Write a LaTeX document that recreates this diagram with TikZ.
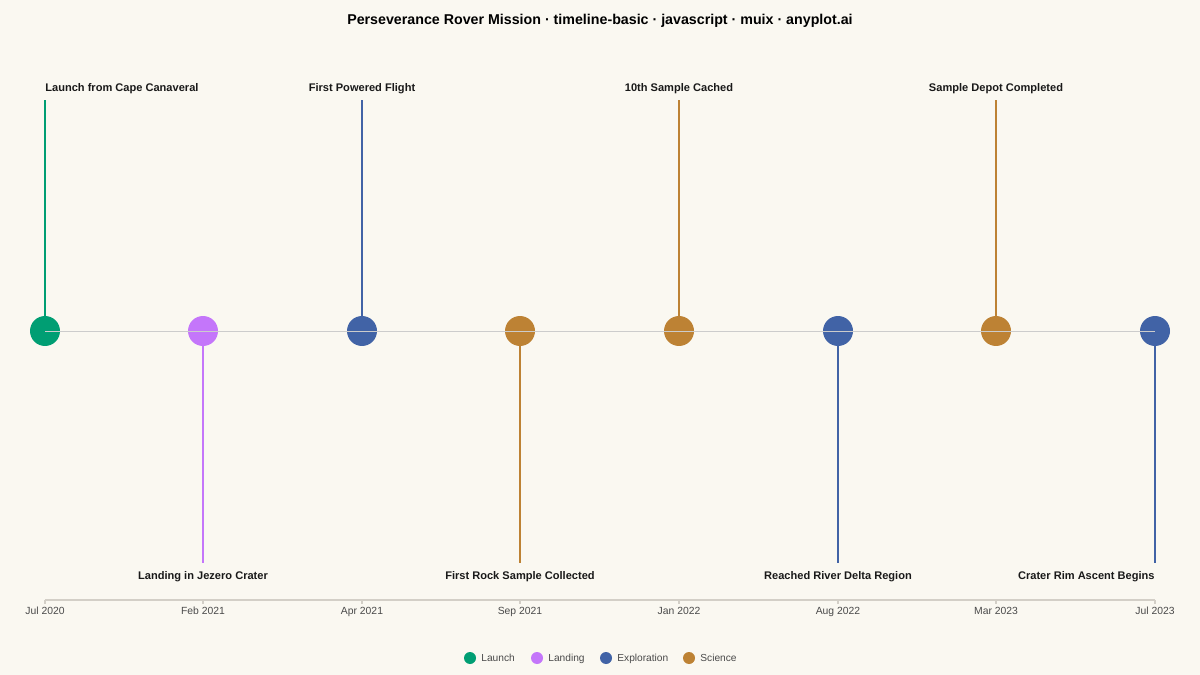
\documentclass[tikz,border=0pt]{standalone}
\usepackage{fontspec}
\setmainfont{Liberation Sans}
\usetikzlibrary{positioning}

\definecolor{paper}{HTML}{FAF8F1}
\definecolor{launchc}{HTML}{009E73}
\definecolor{landc}{HTML}{C476FA}
\definecolor{explc}{HTML}{4163A6}
\definecolor{scic}{HTML}{BD8234}
\definecolor{rulec}{HTML}{D3CFC7}
\definecolor{inkc}{HTML}{4A4A4A}

\def\ymid{331}
\def\ytop{100}
\def\ybot{563}

\tikzset{
  event/.style={circle, fill=#1, minimum size=0.6cm, inner sep=0pt},
  stem/.style={draw=#1, line width=0.9pt},
  title/.style={font=\bfseries\fontsize{6.3}{7}\selectfont, text=black!90, inner sep=0pt},
  tick/.style={font=\fontsize{5.9}{7}\selectfont, text=inkc, inner sep=0pt, anchor=base},
  key/.style={circle, fill=#1, minimum size=0.24cm, inner sep=0pt},
  keytext/.style={font=\fontsize{5.8}{7}\selectfont, text=inkc, anchor=base west, inner sep=0pt}
}

\begin{document}
\begin{tikzpicture}[x=0.02cm, y=-0.02cm]
    \fill[paper] (0,0) rectangle (1200,675);
    \useasboundingbox (0,0) rectangle (1200,675);

    \node[font=\bfseries\fontsize{8.1}{10}\selectfont, anchor=base, inner sep=0pt] (heading) at (600, 25)
      {Perseverance Rover Mission · timeline-basic · javascript · muix · anyplot.ai};

    % stem ends
    \coordinate (t1) at (45, \ytop);
    \coordinate (t2) at (203, \ybot);
    \coordinate (t3) at (362, \ytop);
    \coordinate (t4) at (520, \ybot);
    \coordinate (t5) at (679, \ytop);
    \coordinate (t6) at (838, \ybot);
    \coordinate (t7) at (996, \ytop);
    \coordinate (t8) at (1155, \ybot);

    \node[event=launchc] (e1) at (45, \ymid)  {};
    \node[event=landc]   (e2) at (203, \ymid) {};
    \node[event=explc]   (e3) at (362, \ymid) {};
    \node[event=scic]    (e4) at (520, \ymid) {};
    \node[event=scic]    (e5) at (679, \ymid) {};
    \node[event=explc]   (e6) at (838, \ymid) {};
    \node[event=scic]    (e7) at (996, \ymid) {};
    \node[event=explc]   (e8) at (1155, \ymid) {};

    \draw[stem=launchc] (e1) -- (t1);
    \draw[stem=landc]   (e2) -- (t2);
    \draw[stem=explc]   (e3) -- (t3);
    \draw[stem=scic]    (e4) -- (t4);
    \draw[stem=scic]    (e5) -- (t5);
    \draw[stem=explc]   (e6) -- (t6);
    \draw[stem=scic]    (e7) -- (t7);
    \draw[stem=explc]   (e8) -- (t8);

    \draw[black!20, line width=0.55pt] (e1.center) -- (e8.center);

    \node[title, anchor=base west] (l1) at (45, 91.5)  {Launch from Cape Canaveral};
    \node[title, anchor=base]      (l2) at (203, 579) {Landing in Jezero Crater};
    \node[title, anchor=base]      (l3) at (362, 91.5)  {First Powered Flight};
    \node[title, anchor=base]      (l4) at (520, 579) {First Rock Sample Collected};
    \node[title, anchor=base]      (l5) at (679, 91.5)  {10th Sample Cached};
    \node[title, anchor=base]      (l6) at (838, 579) {Reached River Delta Region};
    \node[title, anchor=base]      (l7) at (996, 91.5)  {Sample Depot Completed};
    \node[title, anchor=base east] (l8) at (1155, 579) {Crater Rim Ascent Begins};

    % date axis
    \draw[rulec, line width=0.8pt] (45, 600) -- (1155, 600);
    \draw[rulec, line width=0.8pt]
      (45, 600) -- ++(0, 4)  (203, 600) -- ++(0, 4)  (362, 600) -- ++(0, 4)
      (520, 600) -- ++(0, 4) (679, 600) -- ++(0, 4)  (838, 600) -- ++(0, 4)
      (996, 600) -- ++(0, 4) (1155, 600) -- ++(0, 4);
    \node[tick] (d1) at (45, 614)   {Jul 2020};
    \node[tick] (d2) at (203, 614)  {Feb 2021};
    \node[tick] (d3) at (362, 614)  {Apr 2021};
    \node[tick] (d4) at (520, 614)  {Sep 2021};
    \node[tick] (d5) at (679, 614)  {Jan 2022};
    \node[tick] (d6) at (838, 614)  {Aug 2022};
    \node[tick] (d7) at (996, 614)  {Mar 2023};
    \node[tick] (d8) at (1155, 614) {Jul 2023};

    % legend
    \node[key=launchc] (k1) at (470, 658) {};
    \node[keytext] at (481, 661.5) {Launch};
    \node[key=landc]   (k2) at (537, 658) {};
    \node[keytext] at (548, 661.5) {Landing};
    \node[key=explc]   (k3) at (606, 658) {};
    \node[keytext] at (617, 661.5) {Exploration};
    \node[key=scic]    (k4) at (689, 658) {};
    \node[keytext] at (700, 661.5) {Science};
\end{tikzpicture}
\end{document}
